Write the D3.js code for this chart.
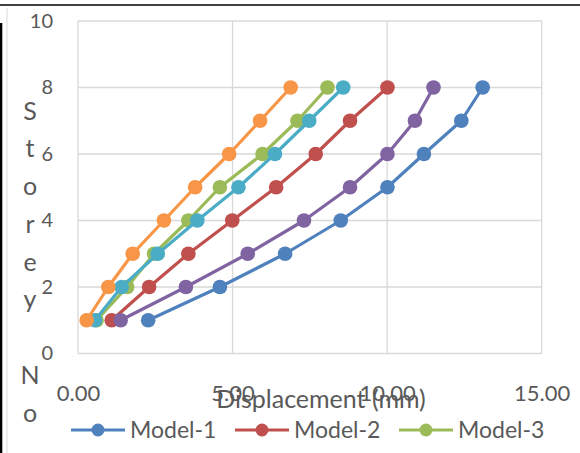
<!DOCTYPE html>
<html>
<head>
<meta charset="utf-8">
<script src="https://cdn.jsdelivr.net/npm/d3@7"></script>
<style>
  html, body { margin: 0; padding: 0; background: #fff; }
  svg { display: block; }
  text { font-family: Lato, "Open Sans", sans-serif; fill: #595959; }
</style>
</head>
<body>
<svg id="chart"></svg>
<script>
// storey levels and displacement (mm) per model
const storeys = [1, 2, 3, 4, 5, 6, 7, 8];
const model1 = [2.27, 4.59, 6.70, 8.50, 10.01, 11.19, 12.40, 13.09];
const model2 = [1.09, 2.30, 3.57, 4.99, 6.41, 7.69, 8.80, 10.01];
const model3 = [0.60, 1.59, 2.46, 3.57, 4.59, 5.97, 7.10, 8.07];
const model4 = [1.38, 3.49, 5.49, 7.31, 8.80, 10.01, 10.90, 11.50];
const model5 = [0.55, 1.41, 2.58, 3.86, 5.19, 6.37, 7.48, 8.58];
const model6 = [0.28, 0.98, 1.77, 2.78, 3.79, 4.89, 5.89, 6.88];
const seriesNames = ['Model-1', 'Model-2', 'Model-3', 'Model-4', 'Model-5', 'Model-6'];
const xTicks = [0, 5, 10, 15];
const yTicks = [0, 2, 4, 6, 8, 10];
const yTitle = 'Storey No';

const width = 580;
const height = 453;

const colorMap = {
    'Model-1': '#4F81BD',
    'Model-2': '#C0504D',
    'Model-3': '#9BBB59',
    'Model-4': '#8064A2',
    'Model-5': '#4BACC6',
    'Model-6': '#F79646',
};

const allValues = [model1, model2, model3, model4, model5, model6];
const series = seriesNames.map((name, i) => ({
    name: name,
    points: storeys.map((s, j) => ({ x: allValues[i][j], y: s }))
}));

const svg = d3.select('#chart')
    .attr('width', width)
    .attr('height', height);

// frame bits left over from the screenshot
svg.append('line')
    .attr('x1', 0).attr('x2', width).attr('y1', 5).attr('y2', 5)
    .attr('stroke', '#000').attr('stroke-width', 1.5);
svg.append('rect')
    .attr('x', 0).attr('y', 23).attr('width', 2.3).attr('height', height - 23)
    .attr('fill', '#000');
svg.append('line')
    .attr('x1', 7).attr('x2', 7).attr('y1', 8).attr('y2', height)
    .attr('stroke', '#d9d9d9').attr('stroke-width', 1);

const x = d3.scaleLinear().domain([0, 15]).range([78, 541.7]);
const y = d3.scaleLinear().domain([0, 10]).range([353.5, 21]);

// gridlines
svg.append('g')
    .selectAll('line')
    .data(yTicks)
    .enter()
    .append('line')
    .attr('x1', x(0)).attr('x2', x(15))
    .attr('y1', d => y(d)).attr('y2', d => y(d))
    .attr('stroke', '#d9d9d9').attr('stroke-width', 1.3);

svg.append('g')
    .selectAll('line')
    .data(xTicks)
    .enter()
    .append('line')
    .attr('x1', d => x(d)).attr('x2', d => x(d))
    .attr('y1', y(0)).attr('y2', y(10))
    .attr('stroke', '#d9d9d9').attr('stroke-width', 1.3);

// axes (labels only)
const yAxis = svg.append('g')
    .attr('transform', 'translate(53,0)')
    .call(d3.axisLeft(y).tickValues(yTicks).tickSize(0).tickPadding(0).tickFormat(d3.format('d')));
yAxis.select('.domain').remove();
yAxis.selectAll('text')
    .style('font-size', '20px')
    .style('font-family', 'Lato, sans-serif')
    .attr('fill', '#595959');

const xAxis = svg.append('g')
    .attr('transform', 'translate(0,385)')
    .call(d3.axisBottom(x).tickValues(xTicks).tickSize(0).tickPadding(0).tickFormat(d3.format('.2f')));
xAxis.select('.domain').remove();
xAxis.selectAll('text')
    .attr('dy', '0.71em')
    .style('font-size', '22px')
    .style('font-family', 'Lato, sans-serif')
    .attr('fill', '#595959');

// axis titles
svg.append('text')
    .attr('x', 321)
    .attr('y', 408)
    .attr('text-anchor', 'middle')
    .style('font-size', '25px')
    .text('Displacement (mm)');

svg.append('text')
    .attr('text-anchor', 'middle')
    .style('font-size', '25px')
    .selectAll('tspan')
    .data(yTitle.split(''))
    .enter()
    .append('tspan')
    .attr('x', 30)
    .attr('y', (d, i) => 119.5 + i * 37.75)
    .text(d => d);

// series
const line = d3.line().x(d => x(d.x)).y(d => y(d.y));

const groups = svg.selectAll('.series')
    .data(series)
    .enter()
    .append('g')
    .attr('class', 'series');

groups.append('path')
    .attr('d', d => line(d.points))
    .attr('fill', 'none')
    .attr('stroke', d => colorMap[d.name])
    .attr('stroke-width', 3.2)
    .attr('stroke-linejoin', 'round');

groups.selectAll('circle')
    .data(d => d.points.map(p => ({ ...p, name: d.name })))
    .enter()
    .append('circle')
    .attr('cx', d => x(d.x))
    .attr('cy', d => y(d.y))
    .attr('r', 7.3)
    .attr('fill', d => colorMap[d.name]);

// legend: only the first row (3 entries) is inside the picture,
// the other entries wrap below the visible area
const legend = svg.append('g');
const items = legend.selectAll('g')
    .data(seriesNames.slice(0, 3))
    .enter()
    .append('g')
    .attr('transform', (d, i) => `translate(${71 + i * 164}, 430)`);

items.append('line')
    .attr('x1', 0).attr('x2', 54)
    .attr('stroke', d => colorMap[d])
    .attr('stroke-width', 3.2);
items.append('circle')
    .attr('cx', 27)
    .attr('r', 6.5)
    .attr('fill', d => colorMap[d]);
items.append('text')
    .attr('x', 59)
    .attr('dy', '0.36em')
    .style('font-size', '23px')
    .text(d => d);
</script>
</body>
</html>
